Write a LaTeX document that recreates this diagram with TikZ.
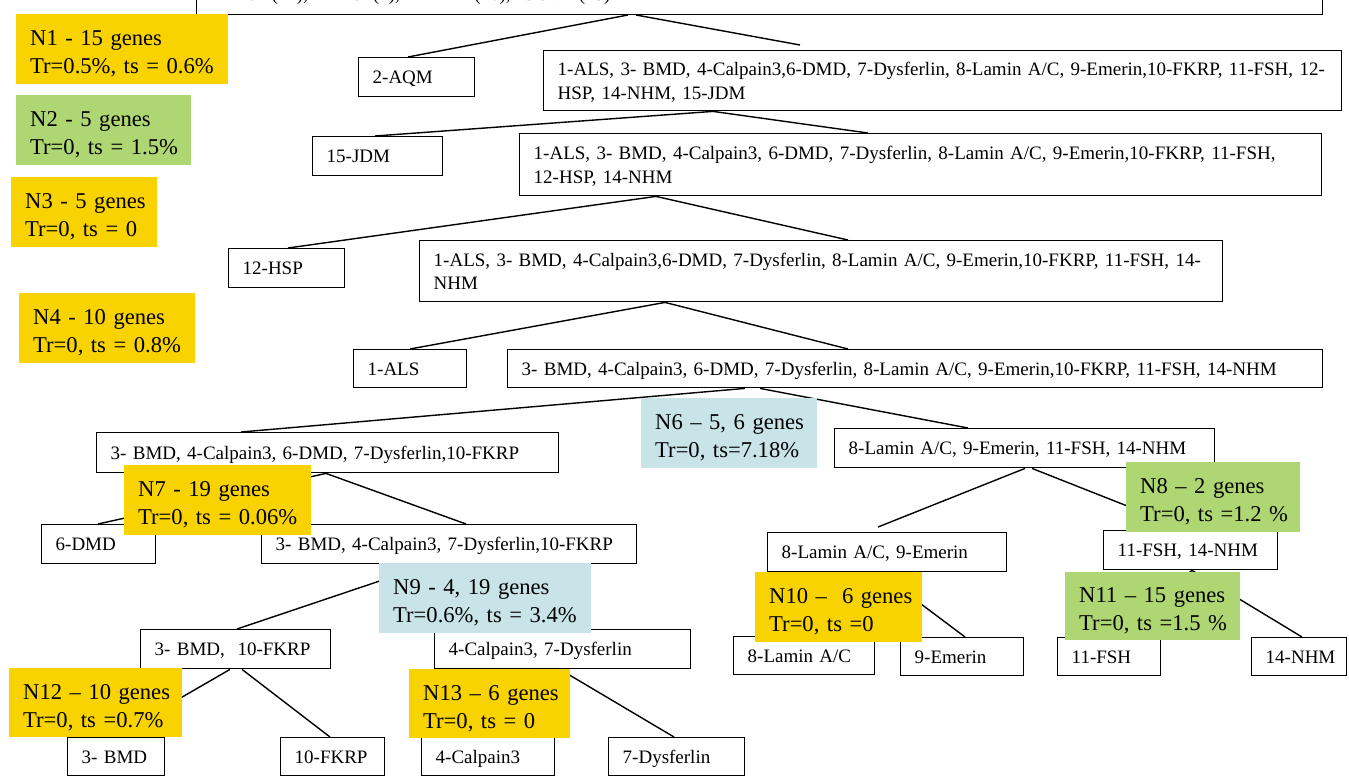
\documentclass[tikz,border=0pt]{standalone}
\usepackage{fontspec}
\setmainfont{Liberation Serif}
\usetikzlibrary{calc}
\definecolor{ylw}{HTML}{F8D300}
\definecolor{grn}{HTML}{AED672}
\definecolor{blu}{HTML}{C8E4E8}
\newcommand\bxfont{\fontsize{19}{23.6}\selectfont}
\newcommand\lbfont{\fontsize{22.6}{28}\selectfont}
\newcommand\mynode[6]{%
  \pgfmathsetmacro\mytw{#4-#2-28}%
  \pgfmathsetmacro\myh{#5-#3}%
  \node[box,text width=\mytw pt,minimum height=\myh pt] (#1) at (#2,#3) {\raisebox{-2pt}[\height][\depth]{\begin{tabular}{@{}l@{}}#6\end{tabular}}};}
\newcommand\mylabel[7]{%
  \pgfmathsetmacro\mytw{#5-#3-28}%
  \pgfmathsetmacro\myh{#6-#4}%
  \node[lbl=#1,text width=\mytw pt,minimum height=\myh pt] (#2) at (#3,#4) {\raisebox{-5pt}[\height][\depth]{\begin{tabular}{@{}l@{}}#7\end{tabular}}};}
\tikzset{
  box/.style={draw,line width=1.4pt,inner xsep=14pt,inner ysep=0pt,anchor=north west,align=left,font=\bxfont},
  lbl/.style={fill=#1,inner xsep=14pt,inner ysep=0pt,anchor=north west,align=left,font=\lbfont},
  conn/.style={line width=1.4pt}
}
\begin{document}
\begin{tikzpicture}[x=1pt,y=-1pt]
\useasboundingbox (0,0) rectangle (1349,784);
\clip (0,0) rectangle (1349,784);
\fill[white] (0,0) rectangle (1349,784);
% top (cut) box
\node[draw,line width=1.4pt,anchor=south west,minimum width=1126pt,minimum height=60pt,inner sep=0pt] (top) at (196,15) {};
\node[anchor=base west,font=\bxfont,inner sep=0pt] (toptext) at (212,1) {11-FSH(14), 12-HSP(4), 14-NHM(10), 15-JDM(23)};
% boxes
\mynode{aqm}{358}{57}{474}{96}{2-AQM}
\mynode{L1}{543}{50}{1341}{110}{1-ALS, 3- BMD, 4-Calpain3,6-DMD, 7-Dysferlin, 8-Lamin A/C, 9-Emerin,10-FKRP, 11-FSH, 12-\\HSP, 14-NHM, 15-JDM}
\mynode{jdm}{312}{136}{442}{175}{15-JDM}
\mynode{L2}{519}{133}{1321}{195}{1-ALS, 3- BMD, 4-Calpain3, 6-DMD, 7-Dysferlin, 8-Lamin A/C, 9-Emerin,10-FKRP, 11-FSH,\\12-HSP, 14-NHM}
\mynode{hsp}{228}{248}{344}{287}{12-HSP}
\mynode{L3}{419}{240}{1222}{301}{1-ALS, 3- BMD, 4-Calpain3,6-DMD, 7-Dysferlin, 8-Lamin A/C, 9-Emerin,10-FKRP, 11-FSH, 14-\\NHM}
\mynode{als}{353}{349}{466}{387}{1-ALS}
\mynode{L4}{507}{349}{1322}{387}{3- BMD, 4-Calpain3, 6-DMD, 7-Dysferlin, 8-Lamin A/C, 9-Emerin,10-FKRP, 11-FSH, 14-NHM}
\mynode{L5L}{96}{432}{558}{472}{3- BMD, 4-Calpain3, 6-DMD, 7-Dysferlin,10-FKRP}
\mynode{L5R}{834}{428}{1214}{467}{8-Lamin A/C, 9-Emerin, 11-FSH, 14-NHM}
\mynode{dmd}{41}{524}{155}{563}{6-DMD}
\mynode{L6}{261}{524}{636}{563}{3- BMD, 4-Calpain3, 7-Dysferlin,10-FKRP}
\mynode{LE}{767}{532}{1006}{571}{8-Lamin A/C, 9-Emerin}
\mynode{FN}{1103}{530}{1277}{569}{11-FSH, 14-NHM}
\mynode{BF}{140}{629}{330}{668}{3- BMD,\ \ 10-FKRP}
\mynode{CD}{434}{629}{690}{668}{4-Calpain3, 7-Dysferlin}
\mynode{lam}{733}{636}{874}{674}{8-Lamin A/C}
\mynode{eme}{900}{637}{1023}{675}{9-Emerin}
\mynode{fsh}{1057}{637}{1160}{675}{11-FSH}
\mynode{nhm}{1251}{637}{1346}{675}{14-NHM}
\mynode{bmd}{67}{737}{164}{775}{3- BMD}
\mynode{fkrp}{280}{737}{384}{775}{10-FKRP}
\mynode{cal}{421}{737}{554}{775}{4-Calpain3}
\mynode{dys}{608}{737}{744}{775}{7-Dysferlin}
% connectors
\draw[conn] ([shift={(432,0)}]top.south west) -- ([shift={(50,0)}]aqm.north west);
\draw[conn] ([shift={(440,0)}]top.south west) -- ([shift={(257,-5)}]L1.north west);
\draw[conn] ([shift={(170,0)}]L1.south west) -- ([shift={(63,0)}]jdm.north west);
\draw[conn] ([shift={(170,0)}]L1.south west) -- ([shift={(349,0)}]L2.north west);
\draw[conn] ([shift={(137,0)}]L2.south west) -- ([shift={(60,0)}]hsp.north west);
\draw[conn] ([shift={(137,0)}]L2.south west) -- ([shift={(429,0)}]L3.north west);
\draw[conn] ([shift={(246,0)}]L3.south west) -- ([shift={(57,0)}]als.north west);
\draw[conn] ([shift={(246,0)}]L3.south west) -- ([shift={(341,0)}]L4.north west);
\draw[conn] ([shift={(238,0)}]L4.south west) -- ([shift={(145,0)}]L5L.north west);
\draw[conn] ([shift={(253,0)}]L4.south west) -- ([shift={(134,0)}]L5R.north west);
\draw[conn] ([shift={(230,0)}]L5L.south west) -- ([shift={(57,0)}]dmd.north west);
\draw[conn] ([shift={(230,0)}]L5L.south west) -- ([shift={(205,0)}]L6.north west);
\draw[conn] ([shift={(191,0)}]L5R.south west) -- ([shift={(111,-5)}]LE.north west);
\draw[conn] ([shift={(198,0)}]L5R.south west) -- ([shift={(85,0)}]FN.north west);
\draw[conn] ([shift={(112,0)}]LE.south west) -- ([shift={(70,0)}]lam.north west);
\draw[conn] ([shift={(112,0)}]LE.south west) -- ([shift={(65,0)}]eme.north west);
\draw[conn] ([shift={(89,0)}]FN.south west) -- ([shift={(51,0)}]fsh.north west);
\draw[conn] ([shift={(89,0)}]FN.south west) -- ([shift={(51,0)}]nhm.north west);
\draw[conn] ([shift={(168,0)}]L6.south west) -- ([shift={(97,0)}]BF.north west);
\draw[conn] ([shift={(168,0)}]L6.south west) -- ([shift={(126,0)}]CD.north west);
\draw[conn] ([shift={(90,0)}]BF.south west) -- ([shift={(46,0)}]bmd.north west);
\draw[conn] ([shift={(102,0)}]BF.south west) -- ([shift={(50,0)}]fkrp.north west);
\draw[conn] ([shift={(122,0)}]CD.south west) -- ([shift={(66,0)}]cal.north west);
\draw[conn] ([shift={(126,0)}]CD.south west) -- ([shift={(66,0)}]dys.north west);
% labels
\mylabel{ylw}{n1}{16}{14}{228}{84}{N1 - 15 genes\\Tr=0.5\%, ts = 0.6\%}
\mylabel{grn}{n2}{16}{95}{191}{165}{N2 - 5 genes\\Tr=0, ts = 1.5\%}
\mylabel{ylw}{n3}{11}{177}{157}{247}{N3 - 5 genes\\Tr=0, ts = 0}
\mylabel{ylw}{n4}{19}{293}{195}{363}{N4 - 10 genes\\Tr=0, ts = 0.8\%}
\mylabel{blu}{n6}{641}{398}{817}{468}{N6 -- 5, 6 genes\\Tr=0, ts=7.18\%}
\mylabel{ylw}{n7}{124}{465}{311}{535}{N7 - 19 genes\\Tr=0, ts = 0.06\%}
\mylabel{grn}{n8}{1126}{462}{1300}{532}{N8 -- 2 genes\\Tr=0, ts =1.2 \%}
\mylabel{blu}{n9}{379}{563}{591}{633}{N9 - 4, 19 genes\\Tr=0.6\%, ts = 3.4\%}
\mylabel{ylw}{n10}{755}{572}{922}{642}{N10 --\ \ 6 genes\\Tr=0, ts =0}
\mylabel{grn}{n11}{1065}{572}{1240}{640}{N11 -- 15 genes\\Tr=0, ts =1.5 \%}
\mylabel{ylw}{n12}{9}{668}{182}{737}{N12 -- 10 genes\\Tr=0, ts =0.7\%}
\mylabel{ylw}{n13}{409}{669}{570}{738}{N13 -- 6 genes\\Tr=0, ts = 0}
\end{tikzpicture}
\end{document}
